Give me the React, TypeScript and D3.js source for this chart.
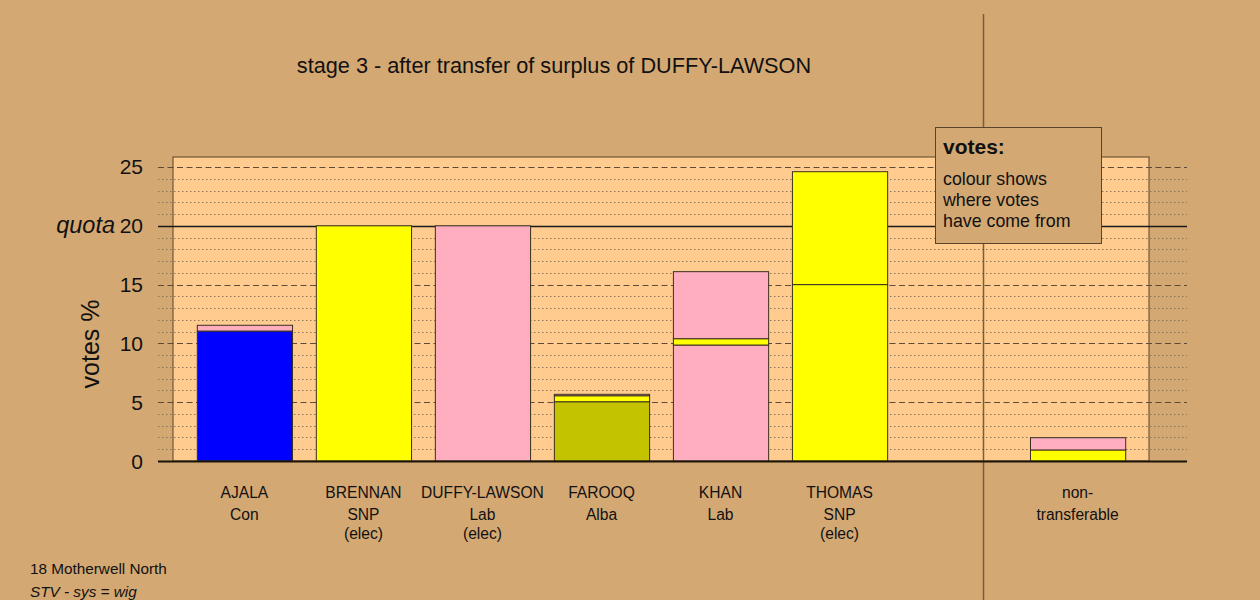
import React from "react";
import * as d3 from "d3";

const names = ["AJALA", "BRENNAN", "DUFFY-LAWSON", "FAROOQ", "KHAN", "THOMAS", "", "non-"];
const parties = ["Con", "SNP", "Lab", "Alba", "Lab", "SNP", "", "transferable"];
const status = ["", "(elec)", "(elec)", "", "", "(elec)", "", ""];

// stacked segments per bar, bottom to top
const segValues: number[][] = [
  [11.05, 0.49],
  [20],
  [20],
  [5.04, 0.51, 0.12],
  [9.86, 0.54, 5.7],
  [15, 9.6],
  [],
  [0.94, 1.04],
];
const segColours: string[][] = [
  ["#0000FF", "#FFAEC0"],
  ["#FFFF00"],
  ["#FFAEC0"],
  ["#C3C300", "#FFFF00", "#FFAEC0"],
  ["#FFAEC0", "#FFFF00", "#FFAEC0"],
  ["#FFFF00", "#FFFF00"],
  [],
  ["#FFFF00", "#FFAEC0"],
];

const majorTicks = [0, 5, 10, 15, 20, 25];
const quota = 20;
const title = "stage 3 - after transfer of surplus of DUFFY-LAWSON";
const legendLines = ["colour shows", "where votes", "have come from"];
const footer1 = "18 Motherwell North";
const footer2 = "STV - sys = wig";

const BG = "#D4A873";
const PANEL = "#FFCB8E";
const FONT = "'Liberation Sans', Arial, Helvetica, sans-serif";

export default function App() {
  const W = 1260, H = 600;
  const panelL = 173, panelR = 1149, panelT = 157, baseY = 461;
  const gridL = 158, gridR = 1187;
  const y = d3.scaleLinear().domain([0, 25.85]).range([baseY, panelT]);
  const x = d3
    .scaleBand<number>()
    .domain(d3.range(names.length))
    .range([panelL, panelR])
    .paddingInner(0.2)
    .paddingOuter(0.2);
  const minor = d3.range(1, 26).filter((v) => v % 5 !== 0);
  const dividerX = 983.5;

  return (
    <svg
      width={W}
      height={H}
      style={{ position: "absolute", left: 0, top: 0, fontFamily: FONT }}
    >
      <rect x={0} y={0} width={W} height={H} fill={BG} />
      <rect
        x={panelL}
        y={panelT}
        width={panelR - panelL}
        height={baseY - panelT}
        fill={PANEL}
        stroke="#5a4328"
        strokeWidth={1}
      />
      {minor.map((v) => (
        <line
          key={"m" + v}
          x1={gridL}
          x2={gridR}
          y1={Math.round(y(v)) + 0.5}
          y2={Math.round(y(v)) + 0.5}
          stroke="#8a7658"
          strokeWidth={1}
          strokeDasharray="1.5,2.5"
        />
      ))}
      {majorTicks
        .filter((v) => v !== 0 && v !== quota)
        .map((v) => (
          <line
            key={"M" + v}
            x1={gridL}
            x2={gridR}
            y1={Math.round(y(v)) + 0.5}
            y2={Math.round(y(v)) + 0.5}
            stroke="#5e4a36"
            strokeWidth={1}
            strokeDasharray="6,3.5"
          />
        ))}
      <line
        x1={gridL}
        x2={gridR}
        y1={Math.round(y(quota)) + 0.5}
        y2={Math.round(y(quota)) + 0.5}
        stroke="#1a1a1a"
        strokeWidth={1.3}
      />
      <line x1={dividerX} x2={dividerX} y1={14} y2={H} stroke="#7a5e3c" strokeWidth={1.5} />
      {segValues.map((vals, i) => {
        let acc = 0;
        return vals.map((v, j) => {
          const y0 = y(acc);
          acc += v;
          const y1 = y(acc);
          return (
            <rect
              key={`b${i}-${j}`}
              x={(x(i) as number) + 0.5}
              y={y1}
              width={x.bandwidth()}
              height={y0 - y1}
              fill={segColours[i][j]}
              stroke="#3a3020"
              strokeWidth={1}
            />
          );
        });
      })}
      <line x1={gridL} x2={gridR} y1={baseY + 0.5} y2={baseY + 0.5} stroke="#1a1408" strokeWidth={2} />
      {majorTicks.map((v) => (
        <text key={"t" + v} x={143} y={y(v) + 7.5} textAnchor="end" fontSize={21} fill="#111">
          {v}
        </text>
      ))}
      <text x={115} y={y(quota) + 7.5} textAnchor="end" fontSize={23.5} fontStyle="italic" fill="#111">
        quota
      </text>
      <text
        transform={`translate(99,344) rotate(-90)`}
        textAnchor="middle"
        fontSize={25}
        fill="#111"
      >
        votes %
      </text>
      <text x={554} y={73} textAnchor="middle" fontSize={21.7} fill="#111">
        {title}
      </text>
      {names.map((n, i) => {
        const cx = (x(i) as number) + x.bandwidth() / 2;
        return (
          <g key={"l" + i} fontSize={15.6} fill="#111" textAnchor="middle">
            <text x={cx} y={497.5}>{n}</text>
            <text x={cx} y={519.5}>{parties[i]}</text>
            <text x={cx} y={538.5}>{status[i]}</text>
          </g>
        );
      })}
      <rect x={935.5} y={127.5} width={166} height={116} fill={BG} stroke="#5a4328" strokeWidth={1} />
      <text x={943} y={154} fontSize={21} fontWeight="bold" fill="#111">
        votes:
      </text>
      {legendLines.map((t, i) => (
        <text key={"lg" + i} x={943} y={185 + i * 21} fontSize={17.8} fill="#111">
          {t}
        </text>
      ))}
      <text x={30} y={574} fontSize={15.3} fill="#111">
        {footer1}
      </text>
      <text x={30} y={597} fontSize={15.3} fontStyle="italic" fill="#111">
        {footer2}
      </text>
    </svg>
  );
}
